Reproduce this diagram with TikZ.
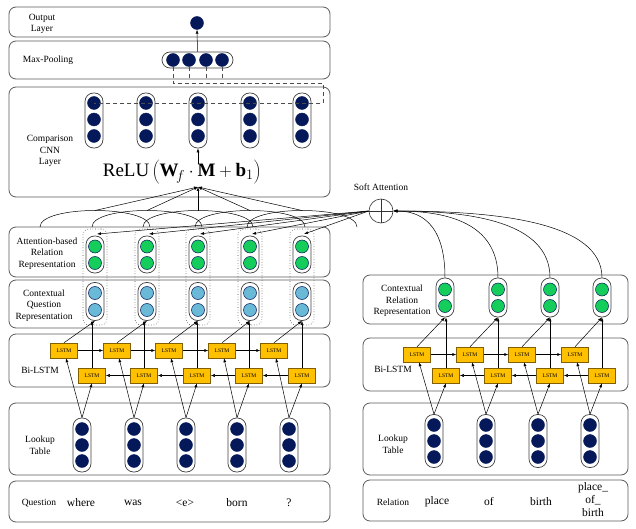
\documentclass[tikz,border=0pt]{standalone}
\usepackage{fontspec}
\setmainfont{Liberation Serif}
\usetikzlibrary{arrows.meta}
\definecolor{navy}{RGB}{5,25,90}
\definecolor{ballgreen}{RGB}{20,205,90}
\definecolor{ballblue}{RGB}{105,185,215}
\definecolor{lstmfill}{RGB}{255,192,0}
\definecolor{lstmdraw}{RGB}{130,95,0}
\definecolor{panelgray}{RGB}{90,90,90}
\begin{document}
\begin{tikzpicture}[x=1pt,y=-1pt,
 panel/.style={draw=panelgray, line width=0.8pt, rounded corners=7pt},
 pill/.style={draw=black!75, fill=white, line width=0.7pt, rounded corners=8.5pt, inner sep=0pt, minimum width=18pt},
 navyball/.style={circle, fill=navy, draw=navy, inner sep=0pt, minimum size=13pt},
 greenball/.style={circle, fill=ballgreen, draw=navy, line width=0.5pt, inner sep=0pt, minimum size=13pt},
 blueball/.style={circle, fill=ballblue, draw=navy, line width=0.5pt, inner sep=0pt, minimum size=13pt},
 lstm/.style={draw=lstmdraw, fill=lstmfill, line width=0.5pt, minimum width=27pt, minimum height=15pt, inner sep=0pt, font=\fontsize{5.5}{6}\selectfont},
 lbl/.style={align=center, font=\fontsize{9.5}{11.5}\selectfont, inner sep=0pt},
 word/.style={align=center, font=\fontsize{11.5}{13}\selectfont, inner sep=0pt},
 arr/.style={-{Latex[length=4pt,width=3pt]}, line width=0.5pt},
 dotbox/.style={draw=black!70, dotted, rounded corners=6pt, line width=0.6pt, minimum width=24pt, minimum height=96pt, inner sep=0pt},
 mpdash/.style={draw=black!70, dash pattern=on 4pt off 3pt, line width=0.6pt},
]
\useasboundingbox (0,0) rectangle (636,529);
% ---------- panels (left)
\draw[panel] (9,7) rectangle (330,37);
\draw[panel] (9,41) rectangle (330,79);
\draw[panel] (9,87) rectangle (330,197);
\draw[panel] (9,227) rectangle (330,277);
\draw[panel] (9,280) rectangle (330,328);
\draw[panel] (9,334) rectangle (330,387);
\draw[panel] (9,403) rectangle (330,475);
\draw[panel] (9,481) rectangle (330,522);
% ---------- panels (right)
\draw[panel] (363,275) rectangle (628,324);
\draw[panel] (363,338) rectangle (628,391);
\draw[panel] (363,403) rectangle (628,475);
\draw[panel] (363,480) rectangle (628,521);
% ---------- labels
\node[lbl] (lOut) at (42,24) {Output\\Layer};
\node[lbl] (lMax) at (48,60) {Max-Pooling};
\node[lbl] (lCnn) at (50,151) {Comparison\\CNN\\Layer};
\node[lbl] (lAtt) at (47,253.5) {Attention-based\\Relation\\Representation};
\node[lbl] (lCtx) at (44,305.5) {Contextual\\Question\\Representation};
\node[lbl] (lLstm) at (40,370) {Bi-LSTM};
\node[lbl] (lLook) at (40,445) {Lookup\\Table};
\node[lbl] (lQ) at (39,503) {Question};
\node[lbl] (rCtxl) at (402,301) {Contextual\\Relation\\Representation};
\node[lbl] (rLstml) at (393,369) {Bi-LSTM};
\node[lbl] (rLookl) at (393,444) {Lookup\\Table};
\node[lbl] (rRell) at (393,502) {Relation};
% ---------- words
\node[word] (w1) at (81,503) {where};
\node[word] (w2) at (133,503) {was};
\node[word] (w3) at (185,503) {<e>};
\node[word] (w4) at (237,503) {born};
\node[word] (w5) at (289,503) {?};
\node[word] (r1) at (437,502) {place};
\node[word] (r2) at (489,502) {of};
\node[word] (r3) at (541,502) {birth};
\node[word] (r4) at (593,500) {place\_\\of\_\\birth};
% ---------- output & max pooling
\node[navyball] (out) at (197,23) {};
\node[pill, minimum width=71pt, minimum height=16pt, rounded corners=8pt] (mp) at (197.5,60) {};
\foreach \i/\x in {1/173,2/189,3/206,4/222}{
  \node[navyball] (mp\i) at (\x,60) {};
}
\draw[arr] (mp.north) -- (out.south);
% ---------- CNN columns
\foreach \i/\x in {1/94,2/146,3/198,4/250,5/302}{
  \node[pill, minimum height=55pt] (cnn\i) at (\x,120.5) {};
  \node[navyball] (cnn\i a) at (\x,103) {};
  \node[navyball] (cnn\i b) at (\x,119.5) {};
  \node[navyball] (cnn\i c) at (\x,136) {};
}
% dashed max-pooling connectors
\coordinate (d1) at (173,83);
\coordinate (d2) at (323,83);
\coordinate (d3) at (323,103);
\draw[mpdash] (mp1.south) -- (d1) -- (d2) -- (d3) -- (cnn1a.center);
\foreach \i/\x in {2/189,3/206,4/222}{
  \coordinate (e\i) at (\x,79);
  \draw[mpdash] (mp\i.south) -- (e\i);
}
% ---------- formula
\node[inner sep=0pt] (frm) at (182,172) {\fontsize{19}{22}\selectfont $\mathrm{ReLU}\left(\mathbf{W}_{\!f}\cdot\mathbf{M}+\mathbf{b}_1\right)$};
\coordinate (fstart) at (198,164);
\draw[arr] (fstart) -- (cnn3.south);
\coordinate (relu) at (198,187);
% ---------- attention + contextual question columns
\foreach \i/\x in {1/95,2/147,3/198,4/250,5/302}{
  \node[dotbox] (dot\i) at (\x,277) {};
  \node[pill, minimum height=37pt] (att\i) at (\x,254.5) {};
  \node[greenball] (att\i a) at (\x,246.5) {};
  \node[greenball] (att\i b) at (\x,263) {};
  \node[pill, minimum height=38pt] (ctx\i) at (\x,301.5) {};
  \node[blueball] (ctx\i a) at (\x,293) {};
  \node[blueball] (ctx\i b) at (\x,310) {};
  \coordinate (pk\i) at (\x,210.5);
  \draw[line width=0.5pt] ({\x-55},227) .. controls ({\x-55},205) and ({\x+55},205) .. ({\x+55},227);
  \draw[arr] (pk\i) -- (relu);
}
% ---------- soft attention
\node[circle, draw=black!80, line width=0.6pt, minimum size=24pt, inner sep=0pt,
  path picture={\draw[line width=0.6pt] (path picture bounding box.north) -- (path picture bounding box.south)
  (path picture bounding box.west) -- (path picture bounding box.east);}] (sa) at (381,211) {};
\node[lbl] (salbl) at (381,187) {Soft Attention};
\foreach \i/\x in {1/97,2/149,3/200,4/252,5/304}{
  \coordinate (ain\i) at (\x,234);
  \draw[arr] (sa.west) -- (ain\i);
}
% ---------- left LSTM & lookup
\foreach \i/\fx/\bx/\lx/\cx in {1/64/92/82/95,2/117/144/134/147,3/169/197/186/198,4/222/249/237/250,5/274/302/289/302}{
  \node[lstm] (lf\i) at (\fx,350.5) {LSTM};
  \node[lstm] (lb\i) at (\bx,375.5) {LSTM};
  \node[pill, minimum height=54pt] (lk\i) at (\lx,445) {};
  \node[navyball] (lk\i a) at (\lx,429) {};
  \node[navyball] (lk\i b) at (\lx,445) {};
  \node[navyball] (lk\i c) at (\lx,461) {};
  \draw[arr] (lk\i.north) -- ([xshift=2pt]lf\i.south);
  \draw[arr] (lk\i.north) -- (lb\i.south);
  \draw[arr] (lf\i.north) -- (ctx\i.south);
  \draw[arr] (lb\i.north) -- (lb\i.north |- ctx\i.south);
}
\foreach \i/\j in {1/2,2/3,3/4,4/5}{
  \draw[arr] (lf\i.east) -- (lf\j.west);
  \draw[arr] (lb\j.west) -- (lb\i.east);
}
% ---------- right columns
\foreach \i/\fx/\bx/\lx/\cx in {1/417/446/434/445,2/470/498/486/498,3/522/550/538/550,4/575/602/590/602}{
  \node[pill, minimum height=39pt] (rctx\i) at (\cx,297.5) {};
  \node[greenball] (rctx\i a) at (\cx,289.5) {};
  \node[greenball] (rctx\i b) at (\cx,306) {};
  \node[lstm] (rf\i) at (\fx,354.5) {LSTM};
  \node[lstm] (rb\i) at (\bx,375.5) {LSTM};
  \node[pill, minimum height=53pt] (rlk\i) at (\lx,441) {};
  \node[navyball] (rlk\i a) at (\lx,425) {};
  \node[navyball] (rlk\i b) at (\lx,441) {};
  \node[navyball] (rlk\i c) at (\lx,457) {};
  \draw[arr] (rlk\i.north) -- ([xshift=2pt]rf\i.south);
  \draw[arr] (rlk\i.north) -- (rb\i.south);
  \draw[arr] (rf\i.north) -- (rctx\i.south);
  \draw[arr] (rb\i.north) -- (rb\i.north |- rctx\i.south);
  \draw[arr] (rctx\i.north) .. controls (\cx,222) and ({393+0.5*(\cx-393)},211) .. (sa.east);
}
\foreach \i/\j in {1/2,2/3,3/4}{
  \draw[arr] (rf\i.east) -- (rf\j.west);
  \draw[arr] (rb\j.west) -- (rb\i.east);
}
\end{tikzpicture}
\end{document}
